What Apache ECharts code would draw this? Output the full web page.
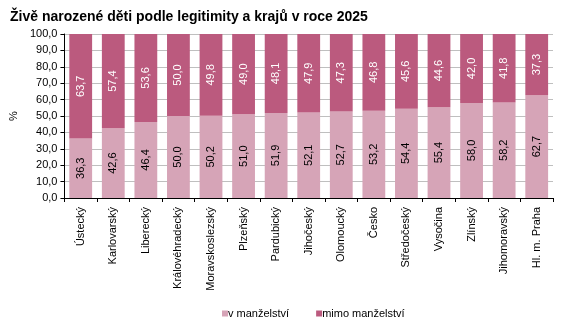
<!DOCTYPE html>
<html><head><meta charset="utf-8">
<script src="https://cdn.jsdelivr.net/npm/echarts@6/dist/echarts.min.js"></script>
<style>html,body{margin:0;padding:0;background:#fff}#c{width:567px;height:326px}</style>
</head><body><div id="c"></div>
<script>
const categories = ['Ústecký','Karlovarský','Liberecký','Královéhradecký','Moravskoslezský','Plzeňský','Pardubický','Jihočeský','Olomoucký','Česko','Středočeský','Vysočina','Zlínský','Jihomoravský','Hl. m. Praha'];
const vManzelstvi = [36.3,42.6,46.4,50.0,50.2,51.0,51.9,52.1,52.7,53.2,54.4,55.4,58.0,58.2,62.7];
const mimoManzelstvi = [63.7,57.4,53.6,50.0,49.8,49.0,48.1,47.9,47.3,46.8,45.6,44.6,42.0,41.8,37.3];
const seriesNames = ['v manželství','mimo manželství'];
const font = 'Arial, "Liberation Sans", sans-serif';
const fmt = v => v.toFixed(1).replace('.', ',');
const chart = echarts.init(document.getElementById('c'), null, {renderer:'canvas'});
chart.setOption({
  animation:false,
  title:{text:'Živě narozené děti podle legitimity a krajů v roce 2025',left:5,top:5,textStyle:{fontFamily:font,fontSize:14,fontWeight:'bold',color:'#000'}},
  grid:{left:53,right:14,top:34,bottom:128,containLabel:false},
  legend:{top:308,left:222,itemWidth:6,itemHeight:6,itemGap:27,icon:'rect',padding:0,
    textStyle:{fontFamily:font,fontSize:11,color:'#000',padding:[0,0,0,-5]},data:seriesNames},
  xAxis:{type:'category',data:categories,
    axisLine:{lineStyle:{color:'#000'}},
    axisTick:{show:true,alignWithLabel:false,length:4,lineStyle:{color:'#000'}},
    axisLabel:{rotate:90,interval:0,fontFamily:font,fontSize:11,color:'#000',margin:9}},
  yAxis:{type:'value',min:0,max:100,interval:10,name:'%',nameLocation:'middle',nameRotate:90,nameGap:42,
    nameTextStyle:{fontFamily:font,fontSize:11,color:'#000'},
    axisLine:{show:true,lineStyle:{color:'#000'}},
    axisTick:{show:true,length:4,lineStyle:{color:'#000'}},
    splitLine:{lineStyle:{color:'#bfbfbf'}},
    axisLabel:{fontFamily:font,fontSize:11,color:'#000',margin:7,formatter:v=>fmt(v)}},
  series:[
    {name:seriesNames[0],type:'bar',stack:'a',data:vManzelstvi,barCategoryGap:'30%',itemStyle:{color:'#d6a4b7'},
      label:{show:true,position:'inside',rotate:90,fontFamily:font,fontSize:11,color:'#000',formatter:p=>fmt(p.value)}},
    {name:seriesNames[1],type:'bar',stack:'a',data:mimoManzelstvi,barCategoryGap:'30%',itemStyle:{color:'#bb5a7e'},
      label:{show:true,position:'inside',rotate:90,fontFamily:font,fontSize:11,color:'#fff',formatter:p=>fmt(p.value)}}
  ]
});
</script></body></html>
